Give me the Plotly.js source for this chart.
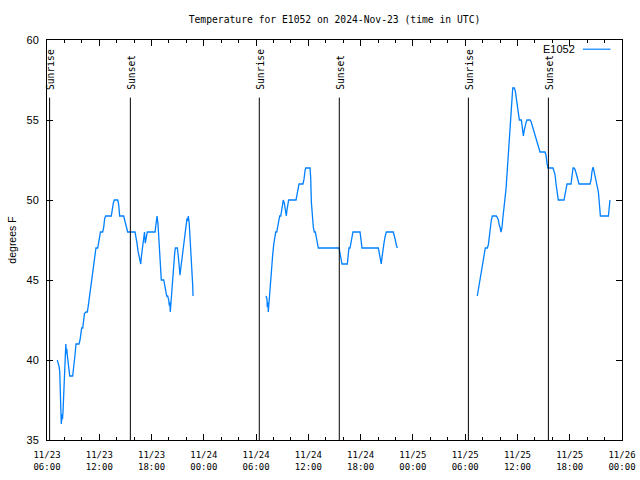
<!DOCTYPE html>
<html>
<head>
<meta charset="utf-8">
<script src="https://cdn.plot.ly/plotly-3.0.1.min.js"></script>
<style>html,body{margin:0;padding:0;background:#fff;}#chart{width:640px;height:480px;}</style>
</head>
<body>
<div id="chart"></div>
<script>
// ---- data (hours since 2024-11-23 06:00 UTC, temperature in degrees F) ----
const startTime = '2024-11-23 06:00';
const endTime = '2024-11-26 00:00';
const seriesName = 'E1052';

const seg1Hours = [1.18,1.30,1.38,1.46,1.53,1.57,1.64,1.72,1.78,1.84,1.92,1.99,2.07,2.16,2.22,2.27,2.33,2.41,2.53,2.61,2.95,3.02,3.10,3.21,3.33,3.67,3.79,3.87,3.98,4.10,4.17,4.30,4.48,4.63,4.74,4.86,4.97,5.08,5.17,5.28,5.39,5.51,5.62,5.82,5.93,6.05,6.14,6.39,6.51,6.62,6.74,7.38,7.50,7.61,7.73,8.12,8.23,8.34,8.80,8.87,8.99,9.07,9.18,9.26,10.10,10.22,10.33,10.45,10.56,10.67,10.76,10.82,10.90,11.02,11.13,11.19,11.28,11.40,11.51,12.40,12.51,12.63,12.74,12.86,12.97,13.05,13.12,13.40,13.51,13.62,13.74,13.85,13.97,14.04,14.10,14.15,14.23,14.31,14.43,14.54,14.66,14.73,14.96,15.07,15.19,15.27,15.35,15.42,15.53,15.64,15.76,15.87,15.99,16.07,16.15,16.22,16.33,16.45,16.56,16.64,16.72,16.76];
const seg1Temps = [40.0,39.8,39.6,39.3,38.2,36.8,36.0,36.6,36.3,36.8,37.7,38.9,40.3,41.0,40.4,40.7,40.3,39.8,39.3,39.0,39.0,39.3,39.8,40.3,41.0,41.0,41.25,41.8,42.0,42.0,42.3,42.9,43.0,43.0,43.4,43.9,44.4,44.7,45.2,45.7,46.25,46.8,47.0,47.0,47.3,47.8,48.0,48.0,48.3,48.85,49.0,49.0,49.6,49.8,50.0,50.0,49.7,49.0,49.0,48.85,48.6,48.5,48.2,48.0,48.0,47.7,47.3,46.8,46.5,46.25,46.0,46.4,46.7,47.3,47.9,48.0,47.3,47.7,48.0,48.0,48.5,49.0,48.5,47.5,46.5,45.6,45.0,45.0,44.7,44.4,44.0,44.0,43.75,43.4,43.6,43.0,43.6,44.5,45.2,45.9,46.7,47.0,47.0,46.5,45.5,45.3,45.7,46.0,46.7,47.2,47.8,48.2,48.5,48.85,48.7,49.0,48.5,47.5,46.25,45.4,44.7,44.0];

const seg2Hours = [25.14,25.25,25.29,25.37,25.40,25.48,25.56,25.68,25.79,25.91,26.02,26.14,26.25,26.37,26.48,26.60,26.71,26.83,26.94,27.01,27.12,27.24,27.32,27.40,27.47,27.55,27.66,27.74,28.58,28.70,28.81,28.93,29.38,29.50,29.61,29.69,30.19,30.27,30.34,30.45,30.57,30.68,30.80,30.91,31.03,31.14,33.52,33.63,33.75,33.86,34.47,34.55,34.66,34.78,34.89,35.01,35.12,35.93,36.04,36.16,38.03,38.14,38.26,38.37,38.45,38.57,38.68,38.80,38.95,39.75,39.87,39.98,40.09,40.21];
const seg2Temps = [44.0,43.8,43.3,43.6,43.0,43.6,44.5,45.3,45.9,46.6,47.2,47.7,48.0,48.0,48.3,48.85,49.0,49.0,49.4,49.8,50.0,49.8,49.5,49.2,49.0,49.4,49.9,50.0,50.0,50.3,50.7,51.0,51.0,51.3,51.8,52.0,52.0,51.35,49.9,48.85,48.3,48.0,48.0,47.7,47.4,47.0,47.0,46.6,46.35,46.0,46.0,46.5,47.0,47.0,47.3,47.7,48.0,48.0,47.6,47.0,47.0,46.7,46.4,46.0,46.4,47.0,47.3,47.7,48.0,48.0,47.8,47.5,47.2,47.0];

const seg3Hours = [49.39,49.51,49.62,49.74,49.85,49.97,50.08,50.20,50.31,50.54,50.66,50.77,50.89,51.00,51.12,51.57,51.69,51.81,51.92,52.00,52.11,52.23,52.34,52.46,52.57,52.69,52.80,52.92,53.03,53.11,53.23,53.34,53.46,53.64,53.76,53.87,53.99,54.11,54.22,54.45,54.57,54.68,54.76,54.87,54.99,55.10,55.44,55.56,55.67,55.79,55.90,56.02,56.13,56.25,56.36,56.48,56.59,57.16,57.28,57.39,57.51,58.08,58.20,58.31,58.43,58.54,58.69,59.34,59.46,59.57,59.69,60.15,60.26,60.38,60.49,60.61,60.72,60.84,60.95,61.07,62.33,62.45,62.56,62.68,62.79,62.91,63.02,63.17,63.29,63.40,63.52,64.44,64.51,64.62];
const seg3Temps = [44.0,44.4,44.8,45.2,45.5,45.8,46.25,46.7,47.0,47.0,47.2,47.7,48.3,48.75,49.0,49.0,48.9,48.75,48.4,48.3,48.0,48.3,48.95,49.4,50.1,50.7,51.6,52.6,53.6,54.6,55.6,56.6,57.0,57.0,56.8,56.35,55.9,55.5,55.0,55.0,54.6,54.0,54.3,54.7,54.85,55.0,55.0,54.9,54.7,54.5,54.3,54.05,53.85,53.6,53.4,53.1,53.0,53.0,52.8,52.3,52.0,52.0,51.8,51.6,51.0,50.5,50.0,50.0,50.4,50.8,51.0,51.0,51.55,52.0,52.0,51.9,51.7,51.5,51.25,51.0,51.0,51.25,51.8,52.05,51.8,51.5,51.15,50.8,50.5,49.8,49.0,49.0,49.4,50.0];

const sunriseTimes = ['2024-11-23 06:18','2024-11-24 06:22','2024-11-25 06:22'];
const sunsetTimes  = ['2024-11-23 15:34','2024-11-24 15:33','2024-11-25 15:33'];

const xTickVals = ['2024-11-23 06:00','2024-11-23 12:00','2024-11-23 18:00','2024-11-24 00:00','2024-11-24 06:00','2024-11-24 12:00','2024-11-24 18:00','2024-11-25 00:00','2024-11-25 06:00','2024-11-25 12:00','2024-11-25 18:00','2024-11-26 00:00'];
const xTickText = ['11/23<br>06:00','11/23<br>12:00','11/23<br>18:00','11/24<br>00:00','11/24<br>06:00','11/24<br>12:00','11/24<br>18:00','11/25<br>00:00','11/25<br>06:00','11/25<br>12:00','11/25<br>18:00','11/26<br>00:00'];

// ---- build ----
const baseMs = Date.UTC(2024, 10, 23, 6, 0, 0);
function toTime(h) {
  return new Date(baseMs + Math.round(h * 3600000)).toISOString().slice(0, 19).replace('T', ' ');
}
const xs = [], ys = [];
[[seg1Hours, seg1Temps], [seg2Hours, seg2Temps], [seg3Hours, seg3Temps]].forEach(([hs, ts], i) => {
  if (i > 0) { xs.push(null); ys.push(null); }
  hs.forEach((h, j) => { xs.push(toTime(h)); ys.push(ts[j]); });
});

const lineColor = 'rgb(0,128,255)';
const mono = 'DejaVu Sans Mono';
const sans = 'Liberation Sans';
const markerTop = 56.4;   // top of sunrise/sunset markers (data units)
const labelBase = 56.75;  // bottom of the rotated labels (data units)

const shapes = [];
const annotations = [];
function addMarker(t, label) {
  shapes.push({type: 'line', xref: 'x', yref: 'y', x0: t, x1: t, y0: 35, y1: markerTop,
               line: {color: 'black', width: 1}});
  annotations.push({xref: 'x', yref: 'y', x: t, y: labelBase, text: label, textangle: -90,
                    showarrow: false, xanchor: 'center', yanchor: 'bottom', xshift: 1,
                    font: {family: mono, size: 9.7, color: 'black'}});
}
sunriseTimes.forEach(t => addMarker(t, 'Sunrise'));
sunsetTimes.forEach(t => addMarker(t, 'Sunset'));

// legend key (gnuplot style: text then line sample)
annotations.push({xref: 'paper', yref: 'paper', x: 0.921, y: 0.977, text: seriesName, showarrow: false,
                  xanchor: 'right', yanchor: 'middle', font: {family: sans, size: 11, color: 'black'}});
shapes.push({type: 'line', xref: 'paper', yref: 'paper', x0: 0.932, x1: 0.98, y0: 0.977, y1: 0.977,
             line: {color: lineColor, width: 1.2}});

const data = [{
  type: 'scatter', mode: 'lines', x: xs, y: ys, name: seriesName,
  line: {color: lineColor, width: 1.3}, connectgaps: false, showlegend: false,
  hoverinfo: 'skip'
}];

const layout = {
  width: 640, height: 480,
  margin: {l: 47, r: 18, t: 40, b: 40, pad: 0},
  paper_bgcolor: 'white', plot_bgcolor: 'white',
  showlegend: false,
  title: {text: 'Temperature for E1052 on 2024-Nov-23 (time in UTC)',
          font: {family: mono, size: 9.7, color: 'black'},
          x: 0.5, xref: 'paper', y: 1 - 20 / 480, yref: 'container', yanchor: 'middle'},
  xaxis: {
    type: 'date', range: [startTime, endTime], automargin: false,
    tickmode: 'array', tickvals: xTickVals, ticktext: xTickText,
    ticks: 'inside', ticklen: 6, tickwidth: 1, tickcolor: 'black',
    minor: {dtick: 2 * 3600000, tick0: startTime, ticks: 'inside', ticklen: 3, tickcolor: 'black', showgrid: false},
    showline: true, linecolor: 'black', linewidth: 1, mirror: 'allticks',
    showgrid: false, zeroline: false, ticklabelstandoff: 6,
    tickfont: {family: mono, size: 9, color: 'black'}
  },
  yaxis: {
    range: [35, 60], tick0: 35, dtick: 5, automargin: false,
    ticks: 'inside', ticklen: 6, tickwidth: 1, tickcolor: 'black',
    showline: true, linecolor: 'black', linewidth: 1, mirror: 'allticks',
    showgrid: false, zeroline: false, ticklabelstandoff: 5,
    tickfont: {family: sans, size: 11, color: 'black'},
    title: {text: 'degrees F', font: {family: sans, size: 10.5, color: 'black'}, standoff: 7}
  },
  shapes: shapes,
  annotations: annotations
};

Plotly.newPlot('chart', data, layout, {staticPlot: true, displayModeBar: false});
</script>
</body>
</html>
